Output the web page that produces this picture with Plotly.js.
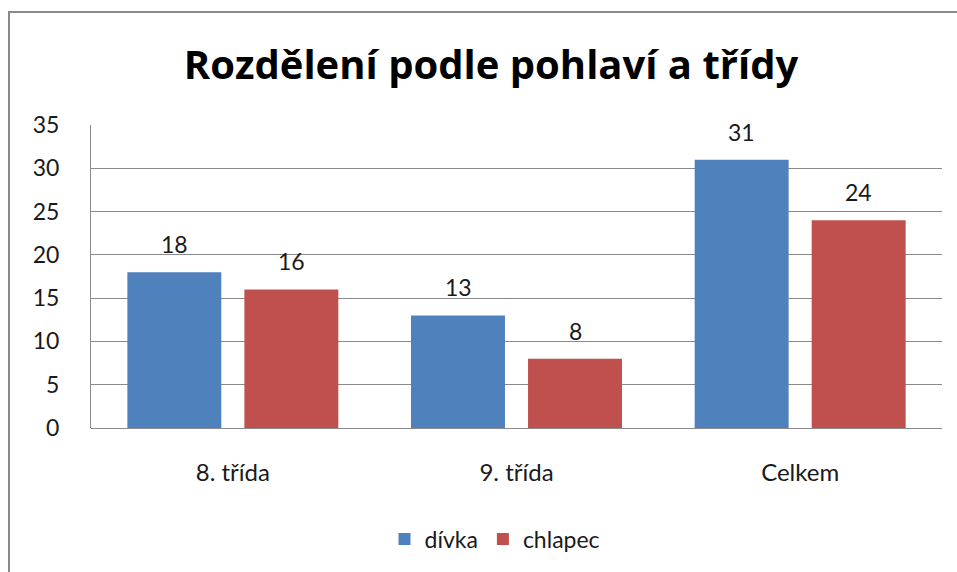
<!DOCTYPE html>
<html>
<head>
<meta charset="utf-8">
<script src="https://cdn.plot.ly/plotly-3.0.1.min.js"></script>
<style>
html,body{margin:0;padding:0;overflow:hidden;background:#fff;}
#chart{position:absolute;left:0;top:0;width:957px;height:572px;}
#frame{position:absolute;left:8px;top:11px;width:1000px;height:600px;border:2px solid #8a8a8a;pointer-events:none;}
</style>
</head>
<body>
<div id="chart"></div>
<div id="frame"></div>
<script>
const categories = ["8. třída", "9. třída", "Celkem"];
const seriesNames = ["dívka", "chlapec"];
const divka = [18, 13, 31];
const chlapec = [16, 8, 24];
const yTicks = [0, 5, 10, 15, 20, 25, 30, 35];
const titleText = "Rozdělení podle pohlaví a třídy";

const FONT = "Lato, 'Open Sans', sans-serif";
const colors = ["#4F81BD", "#C0504D"];
const seriesData = [divka, chlapec];

const traces = seriesData.map((vals, i) => ({
  type: "bar",
  name: seriesNames[i],
  x: categories,
  y: vals,
  marker: {color: colors[i], line: {width: 0}},
  hoverinfo: "skip"
}));

const annotations = [];
seriesData.forEach((vals, i) => {
  vals.forEach((v, j) => {
    annotations.push({
      x: categories[j], y: v, xref: "x", yref: "y",
      text: String(v), showarrow: false,
      xanchor: "center", yanchor: "bottom",
      xshift: i === 0 ? -58.5 : 58.5, yshift: 12,
      font: {family: FONT, size: 23, color: "#1a1a1a"}
    });
  });
});

const layout = {
  width: 957, height: 572,
  margin: {l: 91, r: 15, t: 125, b: 144},
  paper_bgcolor: "#ffffff", plot_bgcolor: "#ffffff",
  title: {
    text: "<b>" + titleText + "</b>",
    font: {family: "'Open Sans', Lato, sans-serif", size: 40, color: "#000000"},
    x: 491 / 957, xanchor: "center", y: 1 - 65 / 572, yanchor: "middle"
  },
  barmode: "group",
  bargap: 0.175,
  bargroupgap: 0.197,
  showlegend: true,
  legend: {
    orientation: "h", x: (495 - 91) / 851, xanchor: "center", y: (428 - 539) / 303, yanchor: "middle",
    xref: "paper", yref: "paper",
    font: {family: FONT, size: 23, color: "#1a1a1a"},
    itemwidth: 30, traceorder: "normal", bgcolor: "rgba(0,0,0,0)"
  },
  xaxis: {
    type: "category",
    showgrid: false, zeroline: false,
    showline: false,
    ticks: "", ticklabelstandoff: 28,
    tickfont: {family: FONT, size: 24, color: "#1a1a1a"},
    fixedrange: true
  },
  yaxis: {
    range: [0, 35],
    tickvals: yTicks,
    ticktext: yTicks.map(String),
    showgrid: true, gridcolor: "#8a8a8a", gridwidth: 1,
    zeroline: true, zerolinecolor: "#8a8a8a", zerolinewidth: 1,
    showline: true, linecolor: "#8a8a8a", linewidth: 1,
    ticks: "", ticklabelstandoff: 26,
    tickfont: {family: FONT, size: 23, color: "#1a1a1a"},
    fixedrange: true
  },
  annotations: annotations
};

Plotly.newPlot("chart", traces, layout, {displayModeBar: false, staticPlot: true});
</script>
</body>
</html>
